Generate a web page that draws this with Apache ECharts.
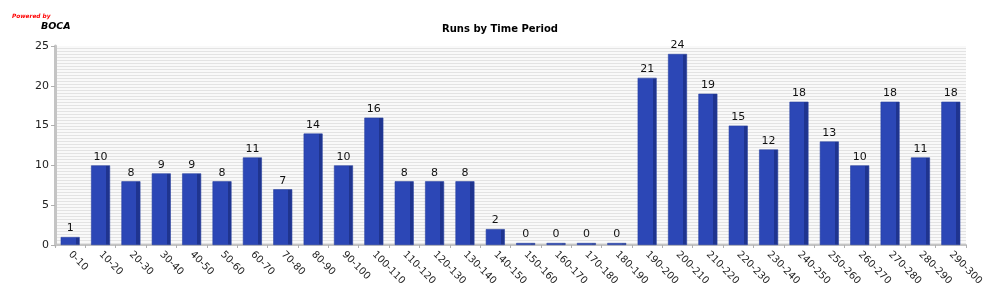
<!DOCTYPE html>
<html><head><meta charset="utf-8">
<script src="https://cdn.jsdelivr.net/npm/echarts@6/dist/echarts.min.js"></script>
<style>html,body{margin:0;padding:0;background:#fff}#c{width:1000px;height:300px}</style>
</head><body><div id="c"></div>
<script>
const categories = ['0-10','10-20','20-30','30-40','40-50','50-60','60-70','70-80','80-90','90-100','100-110','110-120','120-130','130-140','140-150','150-160','160-170','170-180','180-190','190-200','200-210','210-220','220-230','230-240','240-250','250-260','260-270','270-280','280-290','290-300'];
const runs = [1,10,8,9,9,8,11,7,14,10,16,8,8,8,2,0,0,0,0,21,24,19,15,12,18,13,10,18,11,18];
const yTicks = [0,5,10,15,20,25];

const pc = document.createElement('canvas');
pc.width = 4; pc.height = 3;
const g = pc.getContext('2d');
g.fillStyle = '#f9f9f9'; g.fillRect(0,0,4,3);
g.fillStyle = '#e3e3e3'; g.fillRect(0,0,4,1);

const chart = echarts.init(document.getElementById('c'), null, {renderer:'canvas'});
chart.setOption({
  animation:false,
  backgroundColor:'#fff',
  title:[
    {text:'Runs by Time Period', left:'center', top:19, textStyle:{fontFamily:'DejaVu Sans', fontSize:10, fontWeight:'bold', color:'#000'}},
    {text:'Powered by', left:7, top:8, textStyle:{fontFamily:'DejaVu Sans', fontSize:5.8, fontWeight:'bold', fontStyle:'italic', color:'#ff0000'}},
    {text:'BOCA', left:36, top:17, textStyle:{fontFamily:'DejaVu Sans', fontSize:9.5, fontWeight:'bold', fontStyle:'italic', color:'#000'}}
  ],
  grid:{left:55, right:34, top:46, bottom:55, show:true, borderWidth:0, backgroundColor:{image:pc, repeat:'repeat'}},
  xAxis:{type:'category', data:categories,
    axisLine:{lineStyle:{color:'#c4c4c4', width:2}},
    axisTick:{show:true, length:3, lineStyle:{color:'#b0b0b0'}},
    axisLabel:{rotate:-45, interval:0, fontFamily:'DejaVu Sans', fontSize:10, color:'#222', margin:8}
  },
  yAxis:{type:'value', min:yTicks[0], max:yTicks[yTicks.length-1], interval:5,
    axisLine:{show:true, lineStyle:{color:'#c4c4c4', width:3}},
    axisTick:{show:true, length:4, lineStyle:{color:'#b0b0b0'}},
    splitLine:{show:false},
    axisLabel:{fontFamily:'DejaVu Sans', fontSize:11, color:'#222', margin:6}
  },
  series:[{type:'bar', data:runs, barWidth:19, barMinHeight:2,
    itemStyle:{borderColor:'#26409f', borderWidth:0.6, color:{type:'linear', x:0, y:0, x2:1, y2:0, colorStops:[
      {offset:0, color:'#2c47b6'},{offset:0.79, color:'#2c47b6'},{offset:0.79, color:'#1f348f'},{offset:1, color:'#1f348f'}]}},
    label:{show:true, position:'top', distance:3, fontFamily:'DejaVu Sans', fontSize:11, color:'#111'}
  }]
});
</script></body></html>
